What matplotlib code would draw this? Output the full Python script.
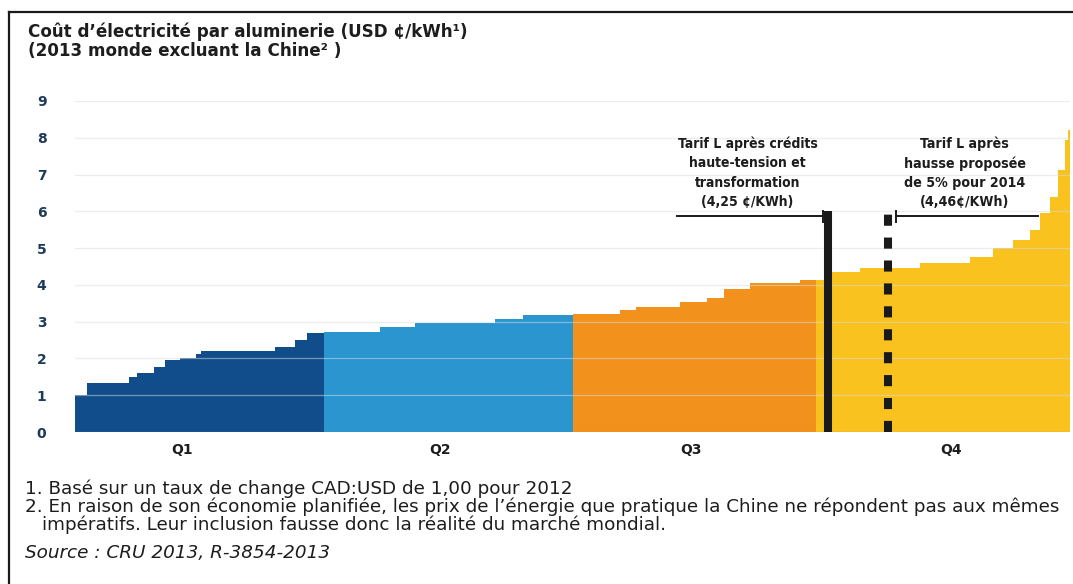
import numpy as np
import matplotlib.pyplot as plt
from matplotlib.lines import Line2D

# Cost curve of smelters, cumulative capacity (%) vs electricity cost (USD ¢/kWh)
q1_edges = [0.0, 1.2, 5.4, 6.2, 7.9, 9.0, 10.6, 12.2, 12.7, 20.1, 22.1, 23.3, 25.0]
q1_costs = [1.00, 1.34, 1.50, 1.61, 1.76, 1.96, 2.00, 2.12, 2.21, 2.30, 2.50, 2.70]

q2_edges = [25.0, 30.7, 34.2, 42.2, 45.0, 50.0]
q2_costs = [2.71, 2.85, 2.97, 3.06, 3.18]

q3_edges = [50.0, 54.8, 56.4, 60.8, 63.5, 65.2, 67.8, 72.9, 74.5]
q3_costs = [3.22, 3.32, 3.41, 3.54, 3.63, 3.90, 4.04, 4.13]

q4_edges = [74.5, 75.9, 78.9, 84.9, 89.9, 92.3, 94.3, 96.0, 97.0, 98.0, 98.8, 99.5, 99.8, 100.0]
q4_costs = [4.13, 4.35, 4.46, 4.59, 4.76, 4.99, 5.22, 5.49, 5.95, 6.39, 7.12, 7.93, 8.22]

quartile_labels = ['Q1', 'Q2', 'Q3', 'Q4']
quartile_label_x = [10.8, 36.7, 61.9, 88.0]
quartile_colors = ['#124d8b', '#2b95d0', '#f2911c', '#f9c21f']

tarif_x = [75.7, 81.7]
tarif_texts = ['Tarif L après crédits\nhaute-tension et\ntransformation\n(4,25 ¢/KWh)',
               'Tarif L après\nhausse proposée\nde 5% pour 2014\n(4,46¢/KWh)']

title_lines = ['Coût d’électricité par aluminerie (USD ¢/kWh¹)',
               '(2013 monde excluant la Chine² )']
notes = ['1. Basé sur un taux de change CAD:USD de 1,00 pour 2012',
         '2. En raison de son économie planifiée, les prix de l’énergie que pratique la Chine ne répondent pas aux mêmes',
         'impératifs. Leur inclusion fausse donc la réalité du marché mondial.']
source = 'Source : CRU 2013, R-3854-2013'

text_color = '#1d1d1d'
tick_color = '#1e3a5a'

plt.rcParams['lines.scale_dashes'] = False
fig = plt.figure(figsize=(10.73, 5.84), dpi=100)
ax = fig.add_axes([75 / 1073, 152 / 584, 995 / 1073, 331 / 584])

# stepped bars, one colour per quartile
for edges, costs, color in zip([q1_edges, q2_edges, q3_edges, q4_edges],
                               [q1_costs, q2_costs, q3_costs, q4_costs],
                               quartile_colors):
    edges = np.array(edges)
    ax.bar(edges[:-1], costs, width=np.diff(edges), align='edge',
           color=color, linewidth=0, zorder=2)

# faint gridlines that show through the bars
for y in range(1, 10):
    ax.axhline(y, color='#d8dde2', linewidth=0.9, alpha=0.5, zorder=3)
ax.axhline(0, color='#8a8a8a', linewidth=0.8, zorder=4)

# tariff markers
ax.plot([tarif_x[0], tarif_x[0]], [0, 6.0], color='#1a1a1a', linewidth=5.8,
        solid_capstyle='butt', zorder=5)
ax.plot([tarif_x[1], tarif_x[1]], [0, 6.0], color='#1a1a1a', linewidth=5.8,
        linestyle=(0, (8, 8.5)), dash_capstyle='butt', zorder=5)

# leader lines with small end caps
ax.plot([60.5, 75.2], [5.87, 5.87], color='#1a1a1a', linewidth=1.4, zorder=5)
ax.plot([75.2, 75.2], [5.72, 6.0], color='#1a1a1a', linewidth=1.4, zorder=5)
ax.plot([82.5, 96.8], [5.87, 5.87], color='#1a1a1a', linewidth=1.4, zorder=5)
ax.plot([82.5, 82.5], [5.72, 6.0], color='#1a1a1a', linewidth=1.4, zorder=5)

ax.text(67.6, 6.06, tarif_texts[0], ha='center', va='bottom', fontsize=10,
        fontweight='bold', fontstretch='condensed', color=text_color,
        linespacing=1.5)
ax.text(89.4, 6.06, tarif_texts[1], ha='center', va='bottom', fontsize=10.2,
        fontweight='bold', fontstretch='condensed', color=text_color,
        linespacing=1.47)

for label, x in zip(quartile_labels, quartile_label_x):
    ax.text(x, -0.3, label, ha='center', va='top', fontsize=10,
            fontweight='bold', color=text_color)

ax.set_xlim(0, 100)
ax.set_ylim(0, 9)
ax.set_yticks(range(0, 10))
ax.set_yticklabels([str(v) for v in range(0, 10)], fontweight='bold',
                   fontsize=10, color=tick_color)
ax.tick_params(axis='y', length=0, pad=24)
for lab in ax.get_yticklabels():
    lab.set_horizontalalignment('center')
ax.set_xticks([])
for side in ['top', 'right', 'left', 'bottom']:
    ax.spines[side].set_visible(False)

# title block
fig.text(28 / 1073, 1 - 32 / 584, title_lines[0], ha='left', va='center',
         fontsize=12.1, fontweight='bold', color=text_color)
fig.text(28 / 1073, 1 - 51 / 584, title_lines[1], ha='left', va='center',
         fontsize=12.1, fontweight='bold', color=text_color)

# footnotes
fig.text(25 / 1073, 1 - 489 / 584, notes[0], ha='left', va='center',
         fontsize=13.2, color=text_color)
fig.text(25 / 1073, 1 - 507 / 584, notes[1], ha='left', va='center',
         fontsize=13.2, color=text_color)
fig.text(42 / 1073, 1 - 525 / 584, notes[2], ha='left', va='center',
         fontsize=13.2, color=text_color)
fig.text(25 / 1073, 1 - 553 / 584, source, ha='left', va='center',
         fontsize=13.2, style='italic', color=text_color)

# frame around the figure
fig.add_artist(Line2D([9 / 1073, 1.0], [1 - 12 / 584, 1 - 12 / 584],
                      transform=fig.transFigure, color='#1a1a1a', linewidth=1.6))
fig.add_artist(Line2D([9 / 1073, 9 / 1073], [0.0, 1 - 12 / 584],
                      transform=fig.transFigure, color='#1a1a1a', linewidth=1.6))

fig.savefig('out.png', dpi=100)
plt.close(fig)
